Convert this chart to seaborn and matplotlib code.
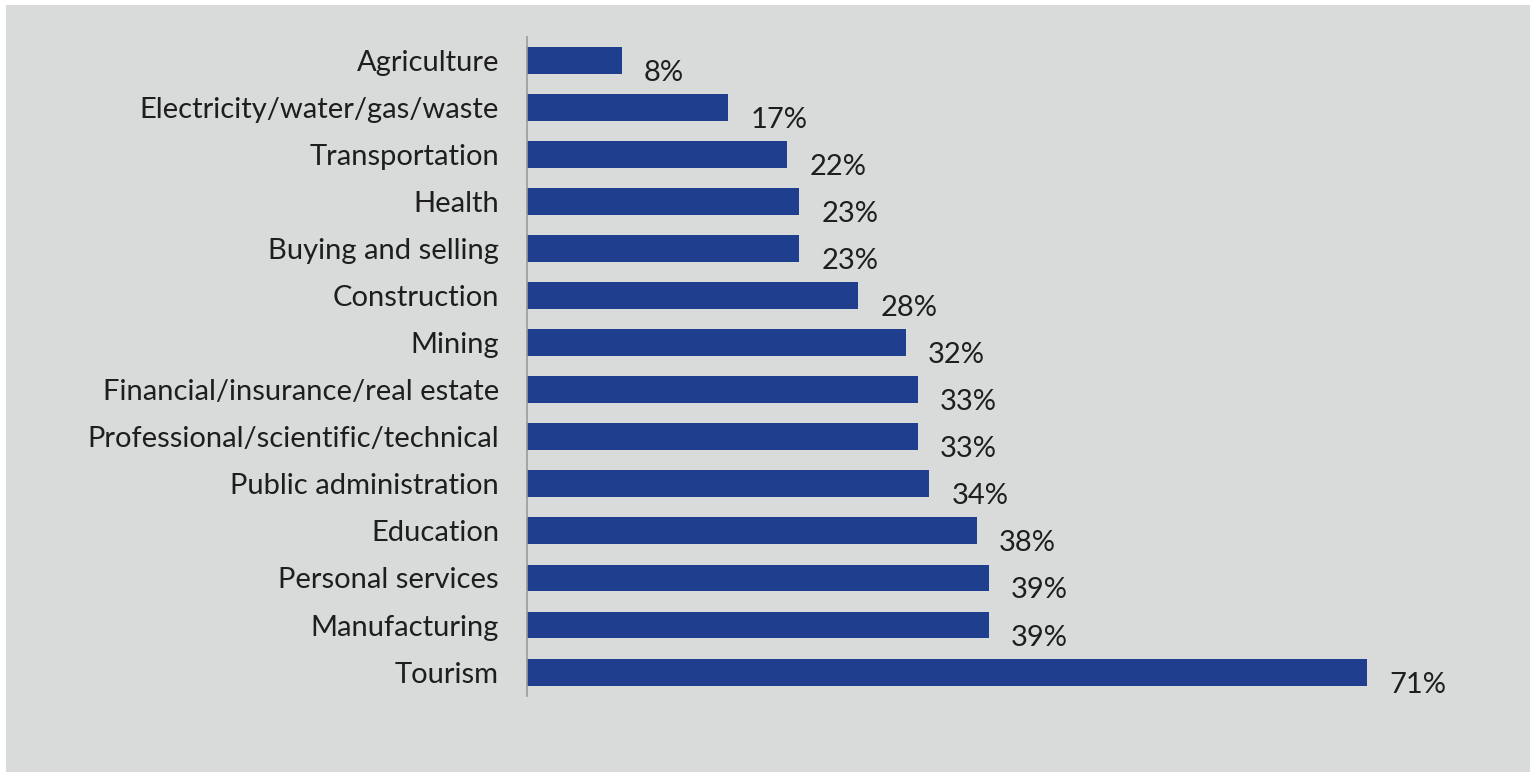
import matplotlib
matplotlib.use('Agg')
import matplotlib.pyplot as plt
import seaborn as sns
import pandas as pd
from matplotlib.patches import Rectangle

# Share of workers affected, by sector
sectors = [
    'Agriculture', 'Electricity/water/gas/waste', 'Transportation', 'Health',
    'Buying and selling', 'Construction', 'Mining',
    'Financial/insurance/real estate', 'Professional/scientific/technical',
    'Public administration', 'Education', 'Personal services',
    'Manufacturing', 'Tourism'
]
shares = [8, 17, 22, 23, 23, 28, 32, 33, 33, 34, 38, 39, 39, 71]
value_labels = [f'{v}%' for v in shares]

df = pd.DataFrame({'sector': sectors, 'share': shares})

sns.set_theme(style='white')
plt.rcParams['font.family'] = ['Lato', 'DejaVu Sans']

fig = plt.figure(figsize=(15.36, 7.79), dpi=100)
fig.patch.set_facecolor('white')
# grey screen area inside the white border
bg = Rectangle((0.004, 0.009), 0.992, 0.985, transform=fig.transFigure,
               facecolor='#d9dbdb', edgecolor='none', zorder=-10)
fig.add_artist(bg)

ax = fig.add_axes([0.343, 0.107, 0.634, 0.846])
ax.set_facecolor('none')

sns.barplot(data=df, x='share', y='sector', color='#1f3e8e', saturation=1,
            width=0.57, linewidth=0, ax=ax)

ax.set_xlim(0, 82.25)
ax.set_xlabel('')
ax.set_ylabel('')
ax.set_xticks([])
ax.tick_params(axis='y', length=0, pad=20, labelsize=21, labelcolor='#1e1e1e')

for s in ['top', 'right', 'bottom']:
    ax.spines[s].set_visible(False)
ax.spines['left'].set_color('#9a9c9c')
ax.spines['left'].set_linewidth(1.2)

for i, (v, lab) in enumerate(zip(shares, value_labels)):
    ax.annotate(lab, xy=(v, i), xytext=(16, -9), textcoords='offset points',
                ha='left', va='center', fontsize=21, color='#1e1e1e')

fig.savefig('out.png', dpi=100, facecolor=fig.get_facecolor())
